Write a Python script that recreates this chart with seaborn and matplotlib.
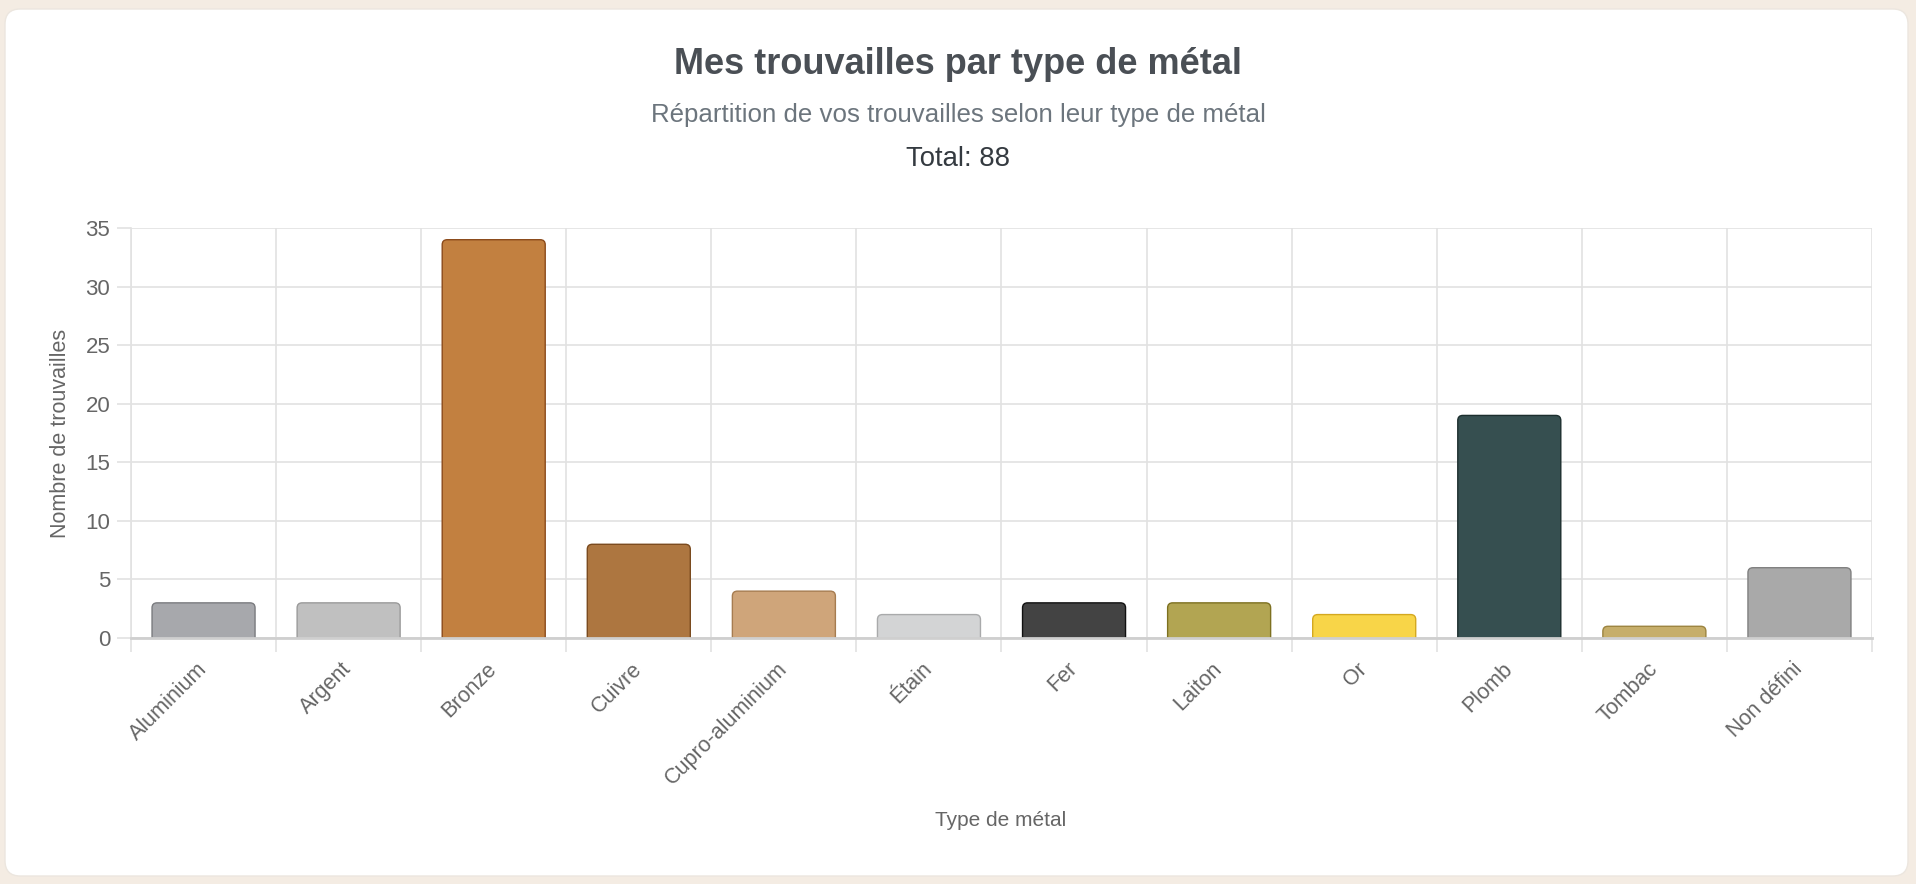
import matplotlib
matplotlib.use("Agg")
import matplotlib.pyplot as plt
import seaborn as sns
import pandas as pd
from matplotlib.patches import FancyBboxPatch

categories = ["Aluminium", "Argent", "Bronze", "Cuivre", "Cupro-aluminium", "Étain",
              "Fer", "Laiton", "Or", "Plomb", "Tombac", "Non défini"]
counts = [3, 3, 34, 8, 4, 2, 3, 3, 2, 19, 1, 6]
fill_colors = ["#a7a8ac", "#c0c0c0", "#c28040", "#ad7640", "#cfa57a", "#d3d4d5",
               "#434343", "#b2a552", "#f8d548", "#364f50", "#c6ae6a", "#a9a9a9"]
edge_colors = ["#7a7b7f", "#9a9a9a", "#8b4a1a", "#7a4a1e", "#a67c50", "#a9aaab",
               "#111111", "#7d7020", "#d4a820", "#1c2e2e", "#9c8440", "#808080"]
title = "Mes trouvailles par type de métal"
subtitle = "Répartition de vos trouvailles selon leur type de métal"
total_text = "Total: 88"
y_label = "Nombre de trouvailles"
x_label = "Type de métal"
y_ticks = [0, 5, 10, 15, 20, 25, 30, 35]

sns.set_theme(style="white")
plt.rcParams['font.family'] = ['Liberation Sans', 'DejaVu Sans']

W, H = 1916, 884
fig = plt.figure(figsize=(W / 100, H / 100), dpi=100)
fig.patch.set_facecolor("#f4ece3")

# white card
card = FancyBboxPatch((5 / W, 8 / H), (1908 - 5) / W, (875 - 8) / H,
                      boxstyle="round,pad=0,rounding_size=0.008",
                      mutation_aspect=W / H,
                      transform=fig.transFigure, facecolor="white",
                      edgecolor="#ece6df", linewidth=1, zorder=-5)
fig.patches.append(card)

left, right, top, bottom = 131, 1872, 228, 638
ax = fig.add_axes([left / W, 1 - bottom / H, (right - left) / W, (bottom - top) / H])
ax.set_zorder(2)
ax.set_facecolor("none")

df = pd.DataFrame({"cat": categories, "n": counts})
sns.barplot(data=df, x="cat", y="n", hue="cat", palette=fill_colors,
            legend=False, width=0.71, ax=ax, zorder=3)

ax.set_xlim(-0.5, len(categories) - 0.5)
ax.set_ylim(0, 35)

# replace bars with rounded-top bars
px_per_x = (right - left) / len(categories)
px_per_y = (bottom - top) / 35
aspect = px_per_x / px_per_y
r = 5 / px_per_x
for p, fc, ec in zip(list(ax.patches), fill_colors, edge_colors):
    x0, w, h = p.get_x(), p.get_width(), p.get_height()
    p.set_visible(False)
    fb = FancyBboxPatch((x0, -2), w, h + 2,
                        boxstyle=f"round,pad=0,rounding_size={r}",
                        mutation_aspect=aspect,
                        facecolor=fc, edgecolor=ec, linewidth=1.0, zorder=3)
    ax.add_patch(fb)
    fb.set_clip_path(ax.patch)

grid_c = "#e2e2e2"
ax.set_yticks(y_ticks)
ax.yaxis.grid(True, color=grid_c, linewidth=1.2, zorder=0)
ax.set_xticks(range(len(categories)))
ax.set_xticks([i + 0.5 for i in range(-1, len(categories))], minor=True)
ax.xaxis.grid(True, which="minor", color=grid_c, linewidth=1.2, zorder=0)
ax.xaxis.grid(False, which="major")
ax.set_axisbelow(True)

ax.tick_params(axis="y", which="major", length=10, color=grid_c, width=1.2,
               labelsize=16, labelcolor="#666666", pad=5, left=True)
ax.tick_params(axis="x", which="major", length=0, labelsize=15.5,
               labelcolor="#666666", pad=20)
ax.tick_params(axis="x", which="minor", length=10, color=grid_c, width=1.2, bottom=True)

for lab in ax.get_xticklabels():
    lab.set_rotation(45)
    lab.set_ha("right")
    lab.set_va("center")
    lab.set_rotation_mode("anchor")

for s in ["top", "right"]:
    ax.spines[s].set_visible(False)
ax.spines["left"].set_color(grid_c)
ax.spines["left"].set_linewidth(1.2)
ax.spines["bottom"].set_color("#cfcfcf")
ax.spines["bottom"].set_linewidth(2)
ax.spines["bottom"].set_zorder(4)

ax.set_xlabel("")
ax.set_ylabel("")
fig.text(60 / W, 1 - 433 / H, y_label, rotation=90, ha="center", va="center",
         fontsize=15.5, color="#666666")
fig.text(1001 / W, 1 - 820 / H, x_label, ha="center", va="center",
         fontsize=15, color="#666666")

fig.text(958 / W, 1 - 64 / H, title, ha="center", va="center",
         fontsize=26, fontweight="bold", color="#4a4f55")
fig.text(958 / W, 1 - 115 / H, subtitle, ha="center", va="center",
         fontsize=18.6, color="#6c757d")
fig.text(958 / W, 1 - 159 / H, total_text, ha="center", va="center",
         fontsize=19.8, color="#343a40")

fig.savefig("out.png", dpi=100, facecolor=fig.get_facecolor())
